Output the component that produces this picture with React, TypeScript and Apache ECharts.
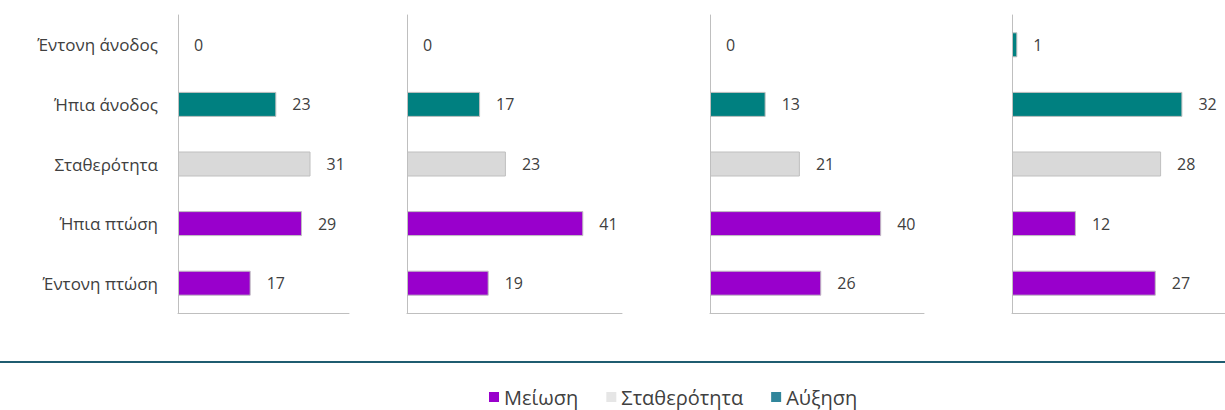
import React, { useEffect, useRef } from "react";
import * as echarts from "echarts";

const categories = ["Έντονη άνοδος", "Ήπια άνοδος", "Σταθερότητα", "Ήπια πτώση", "Έντονη πτώση"];
const seriesNames = ["Μείωση", "Σταθερότητα", "Αύξηση"];
// category index -> series index (0 Μείωση, 1 Σταθερότητα, 2 Αύξηση)
const categoryGroup = [2, 2, 1, 0, 0];
const panel1 = [0, 23, 31, 29, 17];
const panel2 = [0, 17, 23, 41, 19];
const panel3 = [0, 13, 21, 40, 26];
const panel4 = [1, 32, 28, 12, 27];
const panels = [panel1, panel2, panel3, panel4];
const panelMax = [40, 50, 50, 40];

const barColors = ["#9900CC", "#D9D9D9", "#008080"];
const legendColors = ["#9900CC", "#E6E6E6", "#31869B"];
const gridLeft = [178, 407, 710, 1012];
const gridWidth = [171, 215, 214, 213];

export default function App() {
  const ref = useRef<HTMLDivElement>(null);
  useEffect(() => {
    document.body.style.margin = "0";
    const chart = echarts.init(ref.current!, null, { renderer: "svg" });
    const font = "'Open Sans', 'Noto Sans', sans-serif";
    const grids = panels.map((_, i) => ({
      left: gridLeft[i],
      width: gridWidth[i],
      top: 15,
      height: 298,
    }));
    const xAxes = panels.map((_, i) => ({
      type: "value",
      gridIndex: i,
      min: 0,
      max: panelMax[i],
      axisLine: { show: true, lineStyle: { color: "#BFBFBF", width: 1 } },
      axisTick: { show: false },
      axisLabel: { show: false },
      splitLine: { show: false },
    }));
    const yAxes = panels.map((_, i) => ({
      type: "category",
      gridIndex: i,
      data: categories,
      inverse: true,
      axisLine: { show: true, lineStyle: { color: "#BFBFBF", width: 1 } },
      axisTick: { show: false },
      axisLabel: {
        show: i === 0,
        margin: 20,
        fontSize: 17,
        color: "#404040",
        fontFamily: font,
      },
    }));
    const series: any[] = [];
    panels.forEach((vals, p) => {
      seriesNames.forEach((name, s) => {
        series.push({
          type: "bar",
          name,
          xAxisIndex: p,
          yAxisIndex: p,
          stack: "p" + p,
          barWidth: 25,
          itemStyle: { color: barColors[s], borderColor: "#BFBFBF", borderWidth: 1 },
          label: {
            show: true,
            position: "right",
            distance: 16,
            fontSize: 16,
            color: "#404040",
            fontFamily: font,
          },
          data: vals.map((v, c) =>
            categoryGroup[c] === s
              ? v === 0
                ? { value: v, itemStyle: { borderWidth: 0 } }
                : v
              : "-"
          ),
        });
      });
    });
    chart.setOption({
      animation: false,
      textStyle: { fontFamily: font },
      grid: grids,
      xAxis: xAxes,
      yAxis: yAxes,
      series,
      legend: {
        left: 484,
        top: 382,
        icon: "rect",
        itemWidth: 10,
        itemHeight: 10,
        itemGap: 28,
        textStyle: { fontSize: 20, color: "#404040", fontFamily: font },
        data: seriesNames.map((n, i) => ({ name: n, itemStyle: { color: legendColors[i], borderWidth: 0 } })),
      },
      graphic: [
        {
          type: "line",
          shape: { x1: 0, y1: 362, x2: 1225, y2: 362 },
          style: { stroke: "#1F5C70", lineWidth: 2 },
        },
      ],
    });
    return () => chart.dispose();
  }, []);
  return <div ref={ref} style={{ width: 1225, height: 410 }} />;
}
